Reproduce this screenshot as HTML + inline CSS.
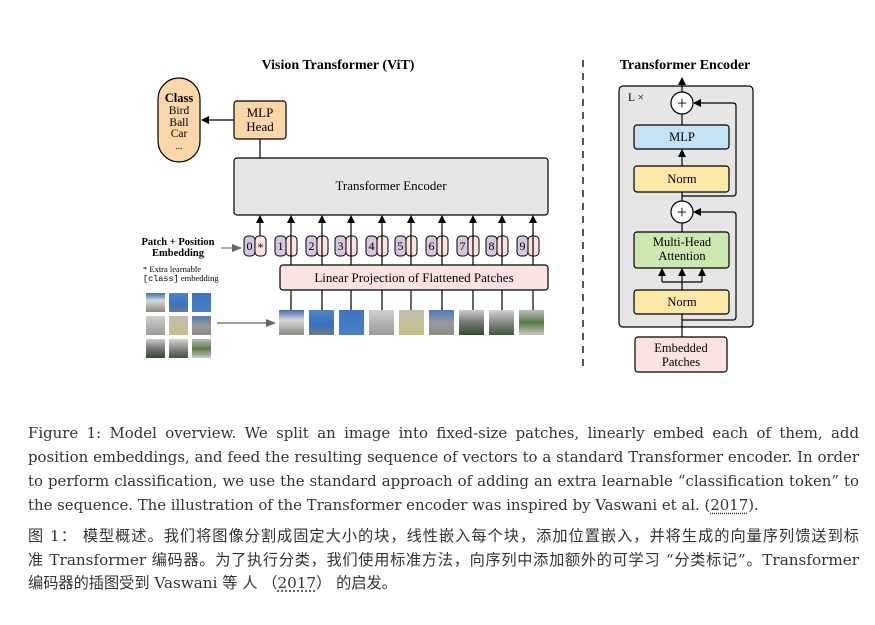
<!DOCTYPE html>
<html><head><meta charset="utf-8"><style>
html,body{margin:0;padding:0;background:#fff;width:875px;height:625px;overflow:hidden}
svg{position:absolute;left:0;top:0}
.cap{position:absolute;left:28px;width:831px;font-family:"DejaVu Serif",serif;font-size:14.9px;color:#333;}
.cap div{height:24px;line-height:24px;text-align:justify;text-align-last:justify;white-space:nowrap}
.cap div.l{text-align-last:left}
.zh{position:absolute;left:28px;width:831px;font-family:"DejaVu Serif","Noto Sans CJK SC",serif;font-size:15.2px;color:#333}
.zh div{height:23.5px;line-height:23.5px;text-align:justify;text-align-last:justify;white-space:nowrap}
.zh div.l{text-align-last:left}
u{text-decoration:underline dotted;text-underline-offset:3px}
</style></head><body>
<svg width="875" height="625" viewBox="0 0 875 625" font-family="Liberation Serif, serif">
<defs>
<marker id="ah" markerWidth="8" markerHeight="8" refX="7" refY="4" orient="auto" markerUnits="userSpaceOnUse"><path d="M0,0 L8,4 L0,8 Z" fill="#000"/></marker>
<marker id="ag" markerWidth="10" markerHeight="8" refX="9" refY="4" orient="auto" markerUnits="userSpaceOnUse"><path d="M0,0 L10,4 L0,8 Z" fill="#666"/></marker>
<linearGradient id="pA" x1="0" y1="0" x2="0" y2="1"><stop offset="0" stop-color="#3b6fb8"/><stop offset=".4" stop-color="#d8d8d8"/><stop offset="1" stop-color="#8a8a80"/></linearGradient>
<linearGradient id="pB" x1="0" y1="0" x2="0" y2="1"><stop offset="0" stop-color="#4f86c9"/><stop offset=".6" stop-color="#3a70b8"/><stop offset="1" stop-color="#6a7a8a"/></linearGradient>
<linearGradient id="pC" x1="0" y1="0" x2="0" y2="1"><stop offset="0" stop-color="#3d74c0"/><stop offset="1" stop-color="#4a80c8"/></linearGradient>
<linearGradient id="pD" x1="0" y1="0" x2="0" y2="1"><stop offset="0" stop-color="#cfcfcf"/><stop offset="1" stop-color="#9a9a98"/></linearGradient>
<linearGradient id="pE" x1="0" y1="0" x2="0" y2="1"><stop offset="0" stop-color="#bdbdb5"/><stop offset="1" stop-color="#c9bf84"/></linearGradient>
<linearGradient id="pF" x1="0" y1="0" x2="0" y2="1"><stop offset="0" stop-color="#4a7ac0"/><stop offset=".5" stop-color="#999"/><stop offset="1" stop-color="#8a8a86"/></linearGradient>
<linearGradient id="pG" x1="0" y1="0" x2="0" y2="1"><stop offset="0" stop-color="#ccc"/><stop offset=".5" stop-color="#777"/><stop offset="1" stop-color="#2f4a2a"/></linearGradient>
<linearGradient id="pH" x1="0" y1="0" x2="0" y2="1"><stop offset="0" stop-color="#d6d6cc"/><stop offset=".5" stop-color="#888"/><stop offset="1" stop-color="#3d5a35"/></linearGradient>
<linearGradient id="pI" x1="0" y1="0" x2="0" y2="1"><stop offset="0" stop-color="#bbb"/><stop offset=".5" stop-color="#5a7a4a"/><stop offset="1" stop-color="#c8c8c0"/></linearGradient>
</defs>
<text x="338" y="69" font-size="14" font-weight="bold" text-anchor="middle">Vision Transformer (ViT)</text>
<rect x="158" y="78" width="42" height="84" rx="21" fill="#fcd5a8" stroke="#000" stroke-width="1.2"/>
<text x="179" y="102" font-size="12.5" font-weight="bold" text-anchor="middle">Class</text>
<text x="179" y="114" font-size="11.5" text-anchor="middle">Bird</text>
<text x="179" y="126" font-size="11.5" text-anchor="middle">Ball</text>
<text x="179" y="137" font-size="11.5" text-anchor="middle">Car</text>
<text x="179" y="149" font-size="9" text-anchor="middle">...</text>
<rect x="234" y="101" width="52" height="38" rx="3" fill="#fcd5a8" stroke="#000" stroke-width="1.2"/>
<text x="260" y="117" font-size="13" text-anchor="middle">MLP</text>
<text x="260" y="131" font-size="13" text-anchor="middle">Head</text>
<line x1="234" y1="120" x2="202" y2="120" stroke="#000" stroke-width="1.2" marker-end="url(#ah)"/>
<line x1="260" y1="139" x2="260" y2="158" stroke="#000" stroke-width="1.2"/>
<rect x="234" y="158" width="314" height="57" rx="3" fill="#e6e6e6" stroke="#000" stroke-width="1.2"/>
<text x="391" y="190" font-size="13" text-anchor="middle">Transformer Encoder</text>
<text x="178" y="245" font-size="10.5" font-weight="bold" text-anchor="middle">Patch + Position</text>
<text x="178" y="256" font-size="10.5" font-weight="bold" text-anchor="middle">Embedding</text>
<line x1="221" y1="248" x2="241" y2="248" stroke="#777" stroke-width="1.2" marker-end="url(#ag)"/>
<text x="143" y="272" font-size="8.5">* Extra learnable</text>
<text x="143" y="281" font-size="8.5"><tspan font-family="Liberation Mono, monospace">[class]</tspan> embedding</text>
<rect x="280" y="265" width="268" height="25" rx="3" fill="#fde2e2" stroke="#000" stroke-width="1.2"/>
<text x="414" y="282" font-size="13" text-anchor="middle">Linear Projection of Flattened Patches</text>
<g font-size="12" text-anchor="middle">
<rect x="244" y="236" width="11" height="20" rx="4" fill="#d6c6e0" stroke="#000"/><rect x="255" y="236" width="11" height="20" rx="4" fill="#fde2e2" stroke="#000"/><text x="249.5" y="250">0</text><text x="260.5" y="251">*</text>
<rect x="275" y="236" width="11" height="20" rx="4" fill="#d6c6e0" stroke="#000"/><rect x="286" y="236" width="11" height="20" rx="4" fill="#fde2e2" stroke="#000"/><text x="280.5" y="250">1</text>
<rect x="306" y="236" width="11" height="20" rx="4" fill="#d6c6e0" stroke="#000"/><rect x="317" y="236" width="11" height="20" rx="4" fill="#fde2e2" stroke="#000"/><text x="311.5" y="250">2</text>
<rect x="335" y="236" width="11" height="20" rx="4" fill="#d6c6e0" stroke="#000"/><rect x="346" y="236" width="11" height="20" rx="4" fill="#fde2e2" stroke="#000"/><text x="340.5" y="250">3</text>
<rect x="366" y="236" width="11" height="20" rx="4" fill="#d6c6e0" stroke="#000"/><rect x="377" y="236" width="11" height="20" rx="4" fill="#fde2e2" stroke="#000"/><text x="371.5" y="250">4</text>
<rect x="395" y="236" width="11" height="20" rx="4" fill="#d6c6e0" stroke="#000"/><rect x="406" y="236" width="11" height="20" rx="4" fill="#fde2e2" stroke="#000"/><text x="400.5" y="250">5</text>
<rect x="426" y="236" width="11" height="20" rx="4" fill="#d6c6e0" stroke="#000"/><rect x="437" y="236" width="11" height="20" rx="4" fill="#fde2e2" stroke="#000"/><text x="431.5" y="250">6</text>
<rect x="457" y="236" width="11" height="20" rx="4" fill="#d6c6e0" stroke="#000"/><rect x="468" y="236" width="11" height="20" rx="4" fill="#fde2e2" stroke="#000"/><text x="462.5" y="250">7</text>
<rect x="486" y="236" width="11" height="20" rx="4" fill="#d6c6e0" stroke="#000"/><rect x="497" y="236" width="11" height="20" rx="4" fill="#fde2e2" stroke="#000"/><text x="491.5" y="250">8</text>
<rect x="517" y="236" width="11" height="20" rx="4" fill="#d6c6e0" stroke="#000"/><rect x="528" y="236" width="11" height="20" rx="4" fill="#fde2e2" stroke="#000"/><text x="522.5" y="250">9</text>
</g>
<g stroke="#000" stroke-width="1.2">
<line x1="260" y1="236" x2="260" y2="216" marker-end="url(#ah)"/>
<line x1="291" y1="265" x2="291" y2="216" marker-end="url(#ah)"/>
<line x1="322" y1="265" x2="322" y2="216" marker-end="url(#ah)"/>
<line x1="351" y1="265" x2="351" y2="216" marker-end="url(#ah)"/>
<line x1="382" y1="265" x2="382" y2="216" marker-end="url(#ah)"/>
<line x1="411" y1="265" x2="411" y2="216" marker-end="url(#ah)"/>
<line x1="442" y1="265" x2="442" y2="216" marker-end="url(#ah)"/>
<line x1="473" y1="265" x2="473" y2="216" marker-end="url(#ah)"/>
<line x1="502" y1="265" x2="502" y2="216" marker-end="url(#ah)"/>
<line x1="533" y1="265" x2="533" y2="216" marker-end="url(#ah)"/>
<line x1="291" y1="290" x2="291" y2="310"/><line x1="322" y1="290" x2="322" y2="310"/><line x1="351" y1="290" x2="351" y2="310"/><line x1="382" y1="290" x2="382" y2="310"/><line x1="411" y1="290" x2="411" y2="310"/><line x1="442" y1="290" x2="442" y2="310"/><line x1="473" y1="290" x2="473" y2="310"/><line x1="502" y1="290" x2="502" y2="310"/><line x1="533" y1="290" x2="533" y2="310"/>
</g>
<g>
<rect x="279" y="310" width="25" height="25" fill="url(#pA)"/><rect x="309" y="310" width="25" height="25" fill="url(#pB)"/><rect x="339" y="310" width="25" height="25" fill="url(#pC)"/><rect x="369" y="310" width="25" height="25" fill="url(#pD)"/><rect x="399" y="310" width="25" height="25" fill="url(#pE)"/><rect x="429" y="310" width="25" height="25" fill="url(#pF)"/><rect x="459" y="310" width="25" height="25" fill="url(#pG)"/><rect x="489" y="310" width="25" height="25" fill="url(#pH)"/><rect x="519" y="310" width="25" height="25" fill="url(#pI)"/>
<rect x="146" y="293" width="19" height="19" fill="url(#pA)"/><rect x="169" y="293" width="19" height="19" fill="url(#pB)"/><rect x="192" y="293" width="19" height="19" fill="url(#pC)"/>
<rect x="146" y="316" width="19" height="19" fill="url(#pD)"/><rect x="169" y="316" width="19" height="19" fill="url(#pE)"/><rect x="192" y="316" width="19" height="19" fill="url(#pF)"/>
<rect x="146" y="339" width="19" height="19" fill="url(#pG)"/><rect x="169" y="339" width="19" height="19" fill="url(#pH)"/><rect x="192" y="339" width="19" height="19" fill="url(#pI)"/>
</g>
<line x1="217" y1="323" x2="275" y2="323" stroke="#666" stroke-width="1.2" marker-end="url(#ag)"/>
<line x1="583" y1="60" x2="583" y2="372" stroke="#555" stroke-width="2" stroke-dasharray="7,6"/>
<text x="685" y="69" font-size="14" font-weight="bold" text-anchor="middle">Transformer Encoder</text>
<rect x="619" y="86" width="134" height="241" rx="4" fill="#e6e6e6" stroke="#000" stroke-width="1.2"/>
<text x="628" y="101" font-size="11.5">L ×</text>
<g stroke="#000" stroke-width="1.2" fill="none">
<line x1="682" y1="337" x2="682" y2="314"/>
<line x1="682" y1="290" x2="682" y2="282"/>
<line x1="662" y1="282" x2="702" y2="282"/>
<line x1="662" y1="282" x2="662" y2="269" marker-end="url(#ah)"/>
<line x1="682" y1="282" x2="682" y2="269" marker-end="url(#ah)"/>
<line x1="702" y1="282" x2="702" y2="269" marker-end="url(#ah)"/>
<line x1="682" y1="232" x2="682" y2="223"/>
<line x1="682" y1="201" x2="682" y2="192"/>
<line x1="682" y1="166" x2="682" y2="150" marker-end="url(#ah)"/>
<line x1="682" y1="125" x2="682" y2="114"/>
<line x1="682" y1="92" x2="682" y2="78" marker-end="url(#ah)"/>
<path d="M682,320 H733 Q736,320 736,317 V215 Q736,212 733,212 H694" marker-end="url(#ah)"/>
<path d="M682,196 H733 Q736,196 736,193 V106 Q736,103 733,103 H694" marker-end="url(#ah)"/>
</g>
<circle cx="682" cy="103" r="11" fill="#fff" stroke="#000" stroke-width="1.2"/>
<text x="682" y="109" font-size="18" text-anchor="middle">+</text>
<circle cx="682" cy="212" r="11" fill="#fff" stroke="#000" stroke-width="1.2"/>
<text x="682" y="218" font-size="18" text-anchor="middle">+</text>
<rect x="634" y="125" width="95" height="24" rx="3" fill="#c4e2f4" stroke="#000" stroke-width="1.2"/>
<text x="682" y="141" font-size="12.5" text-anchor="middle">MLP</text>
<rect x="634" y="166" width="95" height="26" rx="3" fill="#fde8a8" stroke="#000" stroke-width="1.2"/>
<text x="682" y="183" font-size="12.5" text-anchor="middle">Norm</text>
<rect x="634" y="232" width="95" height="36" rx="3" fill="#cbe8b0" stroke="#000" stroke-width="1.2"/>
<text x="682" y="246" font-size="12.5" text-anchor="middle">Multi-Head</text>
<text x="682" y="260" font-size="12.5" text-anchor="middle">Attention</text>
<rect x="634" y="290" width="95" height="24" rx="3" fill="#fde8a8" stroke="#000" stroke-width="1.2"/>
<text x="682" y="306" font-size="12.5" text-anchor="middle">Norm</text>
<rect x="635" y="337" width="92" height="35" rx="3" fill="#fde2e2" stroke="#000" stroke-width="1.2"/>
<text x="681" y="352" font-size="12.5" text-anchor="middle">Embedded</text>
<text x="681" y="366" font-size="12.5" text-anchor="middle">Patches</text>
</svg>
<div class="cap" style="top:421px">
<div>Figure 1: Model overview. We split an image into fixed-size patches, linearly embed each of them, add</div>
<div>position embeddings, and feed the resulting sequence of vectors to a standard Transformer encoder. In order</div>
<div>to perform classification, we use the standard approach of adding an extra learnable “classification token” to</div>
<div class="l">the sequence. The illustration of the Transformer encoder was inspired by Vaswani et al. (<u>2017</u>).</div>
</div>
<div class="zh" style="top:525px">
<div>图 1： 模型概述。我们将图像分割成固定大小的块，线性嵌入每个块，添加位置嵌入，并将生成的向量序列馈送到标</div>
<div>准 Transformer 编码器。为了执行分类，我们使用标准方法，向序列中添加额外的可学习 “分类标记”。Transformer</div>
<div class="l">编码器的插图受到 Vaswani 等 人 （<u>2017</u>） 的启发。</div>
</div>
</body></html>
